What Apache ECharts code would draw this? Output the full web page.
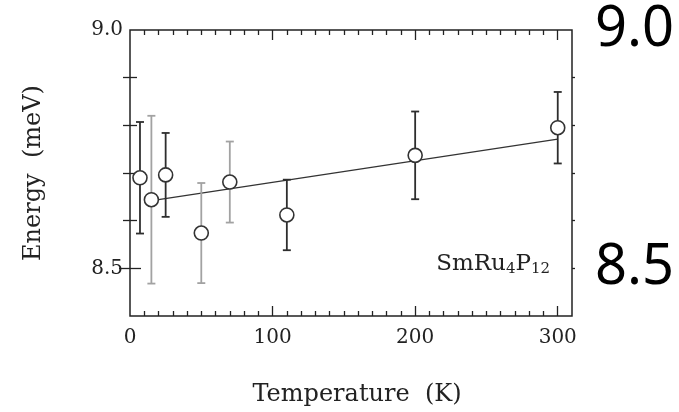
<!DOCTYPE html>
<html>
<head>
<meta charset="utf-8">
<script src="https://cdn.jsdelivr.net/npm/echarts@6/dist/echarts.min.js"></script>
<style>
  html, body { margin: 0; padding: 0; background: #fff; }
  #chart { width: 679px; height: 412px; }
</style>
</head>
<body>
<div id="chart"></div>
<script>
// Measured crystal-field excitation energy versus temperature
const temperature = [7, 15, 25, 50, 70, 110, 200, 300];
const energy      = [8.690, 8.644, 8.696, 8.574, 8.681, 8.612, 8.737, 8.795];
const energyErr   = [0.117, 0.176, 0.088, 0.105, 0.085, 0.074, 0.092, 0.075];

// Linear guide to the eye
const fitTemperature = [20, 300];
const fitEnergy      = [8.644, 8.771];

// Axis ticks
const xLabelTicks = [0, 100, 200, 300];
const xMajorTicks = [100, 200, 300];
const xMinorTicks = [10, 20, 30, 40, 50, 60, 70, 80, 90, 110, 120, 130, 140, 150, 160, 170, 180, 190,
                     210, 220, 230, 240, 250, 260, 270, 280, 290];
const yLabelTicks = [8.5, 9.0];
const yMinorTicks = [8.6, 8.7, 8.8, 8.9];
const yAllTicks   = [8.5, 8.6, 8.7, 8.8, 8.9];

// Error bars drawn in the lighter grey belong to the weaker fits
const barTone = ['dark', 'light', 'dark', 'light', 'light', 'dark', 'dark', 'dark'];
const toneColor = { dark: '#2e2e2e', light: '#a2a2a2' };

const serif = 'DejaVu Serif';
const ink = '#222';

const chart = echarts.init(document.getElementById('chart'), null, { renderer: 'canvas' });

const hidden = { show: false };
function xAx(position, ticks, len, opts) {
  return Object.assign({
    type: 'value', position: position, min: 0, max: 310,
    axisLine: hidden, splitLine: hidden, axisLabel: hidden,
    axisTick: { show: true, inside: true, length: len, customValues: ticks,
                lineStyle: { color: ink, width: 1.3 } }
  }, opts || {});
}
function yAx(position, ticks, len, inside, opts) {
  return Object.assign({
    type: 'value', position: position, min: 8.4, max: 9.0,
    axisLine: hidden, splitLine: hidden, axisLabel: hidden,
    axisTick: { show: true, inside: inside, length: len, customValues: ticks,
                lineStyle: { color: ink, width: 1.3 } }
  }, opts || {});
}

const option = {
  backgroundColor: '#fff',
  animation: false,
  grid: { left: 130, top: 30, width: 442, height: 288, show: true,
          borderColor: ink, borderWidth: 1.5, backgroundColor: 'transparent' },
  xAxis: [
    xAx('bottom', xMajorTicks, 10, {
      name: 'Temperature  (K)', nameLocation: 'middle', nameGap: 67,
      nameTextStyle: { fontFamily: serif, fontSize: 24, color: ink, padding: [0, 0, 0, 12] },
      axisLabel: { show: true, customValues: xLabelTicks, margin: 12,
                   fontFamily: serif, fontSize: 20, color: ink }
    }),
    xAx('bottom', xMinorTicks, 5),
    xAx('top', xMajorTicks, 10),
    xAx('top', xMinorTicks, 5)
  ],
  yAxis: [
    yAx('left', [8.5], 11, true, {
      name: 'Energy  (meV)', nameLocation: 'middle', nameGap: 84, nameRotate: 90,
      nameTextStyle: { fontFamily: serif, fontSize: 24, color: ink },
      axisLabel: { show: true, customValues: yLabelTicks, margin: 7,
                   formatter: v => v.toFixed(1),
                   fontFamily: serif, fontSize: 20, color: ink }
    }),
    yAx('left', yMinorTicks, 7, true),
    yAx('right', [8.5], 11, true, {
      axisLabel: { show: true, customValues: yLabelTicks, margin: 23,
                   formatter: v => v.toFixed(1),
                   fontFamily: 'Noto Sans', fontSize: 56, color: '#000' }
    }),
    yAx('right', yMinorTicks, 7, true),
    yAx('right', yAllTicks, 3, false)
  ],
  graphic: [{
    type: 'text', right: 129, top: 250,
    style: {
      text: '{m|SmRu}{s|4}{m|P}{s|12}',
      rich: {
        m: { fontFamily: serif, fontSize: 23, fill: ink, lineHeight: 24, verticalAlign: 'top' },
        s: { fontFamily: serif, fontSize: 15, fill: ink, lineHeight: 24, verticalAlign: 'bottom', padding: [12, 0, 0, 0] }
      }
    }
  }],
  series: [
    {
      type: 'line', xAxisIndex: 0, yAxisIndex: 0, z: 2,
      data: fitTemperature.map((t, i) => [t, fitEnergy[i]]),
      showSymbol: false, symbol: 'none',
      lineStyle: { color: '#333', width: 1.3 }
    },
    {
      type: 'custom', xAxisIndex: 0, yAxisIndex: 0, z: 3,
      data: temperature.map((t, i) => [t, energy[i] - energyErr[i], energy[i] + energyErr[i], i]),
      renderItem: function (params, api) {
        const lo = api.coord([api.value(0), api.value(1)]);
        const hi = api.coord([api.value(0), api.value(2)]);
        const stroke = toneColor[barTone[api.value(3)]];
        const cap = 4;
        const style = { stroke: stroke, lineWidth: 1.8 };
        return {
          type: 'group',
          children: [
            { type: 'line', shape: { x1: lo[0], y1: lo[1], x2: hi[0], y2: hi[1] }, style: style },
            { type: 'line', shape: { x1: lo[0] - cap, y1: lo[1], x2: lo[0] + cap, y2: lo[1] }, style: style },
            { type: 'line', shape: { x1: hi[0] - cap, y1: hi[1], x2: hi[0] + cap, y2: hi[1] }, style: style }
          ]
        };
      }
    },
    {
      type: 'scatter', xAxisIndex: 0, yAxisIndex: 0, z: 4,
      data: temperature.map((t, i) => [t, energy[i]]),
      symbol: 'circle', symbolSize: 14,
      itemStyle: { color: '#fff', borderColor: '#333', borderWidth: 1.6, opacity: 1 }
    }
  ]
};

chart.setOption(option);
</script>
</body>
</html>
